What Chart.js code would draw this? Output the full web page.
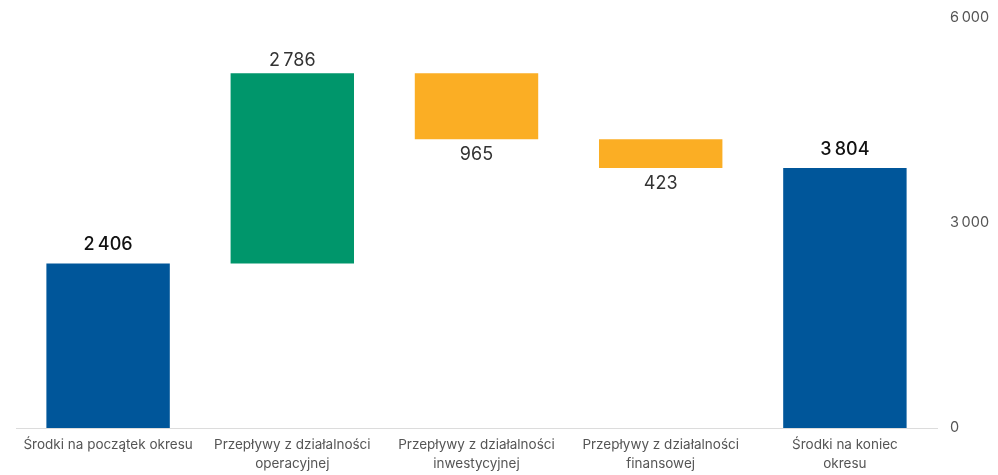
<!DOCTYPE html>
<html><head><meta charset="utf-8">
<script src="https://cdn.jsdelivr.net/npm/chart.js@4/dist/chart.umd.min.js"></script>
<style>html,body{margin:0;padding:0;background:#fff}#wrap{width:998px;height:475px}</style>
</head><body><div id="wrap"><canvas id="c" width="998" height="475"></canvas></div>
<script>
const categories = [["Środki na początek okresu"],["Przepływy z działalności","operacyjnej"],["Przepływy z działalności","inwestycyjnej"],["Przepływy z działalności","finansowej"],["Środki na koniec","okresu"]];
const startValue = 2406;
const flowValues = [2786, -965, -423];
const endValue = 3804;
const yTicks = [0, 3000, 6000];
const kinds = ["total","up","down","down","total"];
const colors = {total:"#00569A", up:"#00966B", down:"#FBAE24"};

const ranges = [];
ranges.push([0, startValue]);
let run = startValue;
flowValues.forEach(v => { const n = run + v; ranges.push([Math.min(run,n), Math.max(run,n)]); run = n; });
ranges.push([0, endValue]);
const labelValues = [startValue, ...flowValues.map(Math.abs), endValue];
const fmt = v => String(v).replace(/\B(?=(\d{3})+(?!\d))/g, "\u2009");

const labelPlugin = {
  id:'lbl',
  afterDatasetsDraw(chart){
    const ctx = chart.ctx; const meta = chart.getDatasetMeta(0); const ys = chart.scales.y;
    meta.data.forEach((bar,i)=>{
      const k = kinds[i]; const r = ranges[i];
      ctx.save();
      ctx.fillStyle = k==='total' ? '#111' : '#333';
      ctx.textAlign='center'; ctx.textBaseline='middle';
      ctx.font = (k==='total' ? '500 18px Inter' : '400 18px Inter');
      let y;
      if (k==='down') y = ys.getPixelForValue(r[0]) + 15.5;
      else y = ys.getPixelForValue(r[1]) - (k==='total'?18.5:12.5);
      ctx.fillText(fmt(labelValues[i]), bar.x, y);
      ctx.restore();
    });
  }
};

new Chart(document.getElementById('c'), {
  type:'bar',
  data:{labels:categories, datasets:[{data:ranges, backgroundColor:kinds.map(k=>colors[k]), borderWidth:0, categoryPercentage:1, barPercentage:0.67, borderSkipped:false}]},
  options:{
    responsive:false, animation:false,
    layout:{padding:{left:16, right:0, top:18, bottom:0}},
    plugins:{legend:{display:false}, tooltip:{enabled:false}},
    scales:{
      x:{grid:{display:false, drawTicks:false}, border:{display:true,color:'#dcdcdc'},
         afterFit(ax){ax.height = 47;},
         ticks:{color:'#555', font:{family:'Inter', size:13.5, lineHeight:1.45}, padding:7, maxRotation:0, autoSkip:false}},
      y:{position:'right', min:0, max:6000, afterBuildTicks(ax){ax.ticks = yTicks.map(v=>({value:v}));},
         afterFit(ax){ax.width = 61; ax.paddingTop = 0; ax.paddingBottom = 0;},
         grid:{display:false, drawTicks:false}, border:{display:false},
         ticks:{color:'#555', font:{family:'Inter', size:14.5}, padding:13, callback:v=>fmt(v)}}
    }
  },
  plugins:[labelPlugin]
});
</script></body></html>
